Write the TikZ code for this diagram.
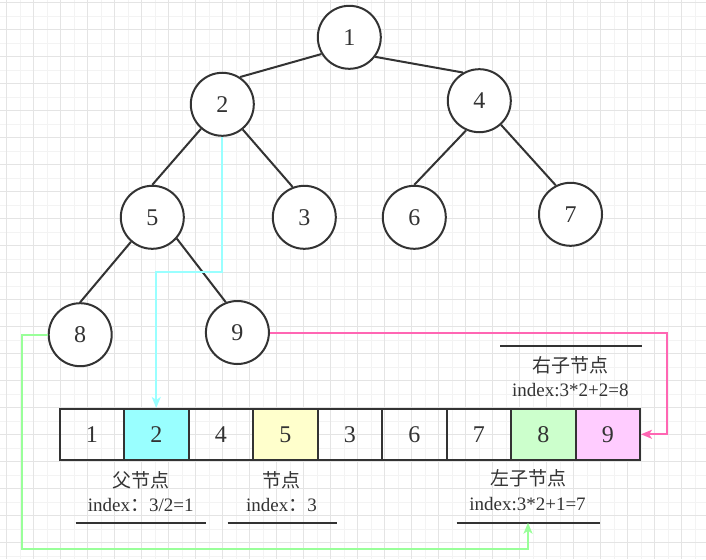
\documentclass[tikz,border=0pt]{standalone}
\usepackage{fontspec}
\setmainfont{Liberation Serif}
\newfontfamily\cjk{Noto Sans CJK SC}
\usetikzlibrary{arrows.meta}
\definecolor{ink}{HTML}{333333}
\definecolor{gmaj}{HTML}{E4E4E4}
\definecolor{gmin}{HTML}{F3F3F3}
\definecolor{cyanc}{HTML}{99FFFF}
\definecolor{yelc}{HTML}{FFFFCC}
\definecolor{grnc}{HTML}{CCFFCC}
\definecolor{pnkc}{HTML}{FFCCFF}
\definecolor{cyanl}{HTML}{99FFFF}
\definecolor{pinkl}{HTML}{FF66B3}
\definecolor{greenl}{HTML}{99FF99}
\tikzset{
  tnode/.style={circle,draw=ink,line width=2pt,fill=white,minimum size=63pt,inner sep=0pt,
    text=ink,font=\fontsize{24}{28}\selectfont},
  cell/.style={rectangle,draw=ink,line width=2pt,minimum width=64.5pt,minimum height=50.7pt,
    inner sep=0pt,text=ink,font=\fontsize{24}{28}\selectfont},
  edge/.style={draw=ink,line width=2pt},
  lbl/.style={text=ink,inner sep=0pt,font=\fontsize{19}{22}\selectfont},
  uline/.style={draw=ink,line width=2pt},
  conn/.style={line width=2pt,-{Stealth[length=11pt,width=9pt,inset=3pt]}},
  gridmaj/.style={draw=gmaj,line width=0.9pt},
  gridmin/.style={draw=gmin,line width=0.9pt}
}
\begin{document}
\begin{tikzpicture}[x=1pt,y=-1pt]
\useasboundingbox (0,0) rectangle (706,559);
\fill[white] (0,0) rectangle (706,559);
% grid
\foreach \i in {0,...,25} {\draw[gridmin] ({20.2+27*\i},0) -- ({20.2+27*\i},559);}
\foreach \i in {0,...,20} {\draw[gridmin] (0,{16.2+27*\i}) -- (706,{16.2+27*\i});}
\foreach \i in {0,...,25} {\draw[gridmaj] ({6.7+27*\i},0) -- ({6.7+27*\i},559);}
\foreach \i in {0,...,20} {\draw[gridmaj] (0,{2.7+27*\i}) -- (706,{2.7+27*\i});}

% tree nodes
\node[tnode] (n1) at (349.3,37.3) {1};
\node[tnode] (n2) at (222.3,104.3) {2};
\node[tnode] (n4) at (479.3,100.7) {4};
\node[tnode] (n5) at (152.3,217.3) {5};
\node[tnode] (n3) at (304.3,217.3) {3};
\node[tnode] (n6) at (414.3,217.3) {6};
\node[tnode] (n7) at (570.5,214.3) {7};
\node[tnode] (n8) at (80.2,334.7) {8};
\node[tnode] (n9) at (237.4,332.5) {9};

% tree edges
\draw[edge] (n1.211) -- (n2.57);
\draw[edge] (n1.-37) -- (n4.120);
\draw[edge] (n2.229) -- (n5.90);
\draw[edge] (n2.-51) -- (n3.111);
\draw[edge] (n4.246) -- (n6.90);
\draw[edge] (n4.-48) -- (n7.117);
\draw[edge] (n5.229) -- (n8.90);
\draw[edge] (n5.-41) -- (n9.111);

% array
\node[cell] (c1) at (91.75,434.3) {1};
\node[cell,fill=cyanc] (c2) at (156.25,434.3) {2};
\node[cell] (c3) at (220.75,434.3) {4};
\node[cell,fill=yelc] (c4) at (285.25,434.3) {5};
\node[cell] (c5) at (349.75,434.3) {3};
\node[cell] (c6) at (414.25,434.3) {6};
\node[cell] (c7) at (478.75,434.3) {7};
\node[cell,fill=grnc] (c8) at (543.25,434.3) {8};
\node[cell,fill=pnkc] (c9) at (607.75,434.3) {9};

% labels
\node[lbl] (lp1) at (141,480) {\cjk 父节点};
\node[lbl] (lp2) at (140.7,505) {index{\cjk ：}3/2=1};
\node[lbl] (ln1) at (281.7,480) {\cjk 节点};
\node[lbl] (ln2) at (281.5,505) {index{\cjk ：}3};
\node[lbl] (ll1) at (528.3,478) {\cjk 左子节点};
\node[lbl] (ll2) at (527.5,504) {index:3*2+1=7};
\node[lbl] (lr1) at (570,365) {\cjk 右子节点};
\node[lbl] (lr2) at (570.3,390) {index:3*2+2=8};

% underlines
\draw[uline] (75.7,522.7) -- (206.3,522.7);
\draw[uline] (227.5,522.7) -- (336.5,522.7);
\draw[uline] (456.7,522.7) -- (600,522.7);
\draw[uline] (500,345.7) -- (641.7,345.7);

% connectors
\coordinate (cyb) at (0,272.3);
\draw[conn,cyanl] (n2.south) -- (n2.south |- cyb) -| (c2.north);
\coordinate (pkx) at (666.7,0);
\draw[conn,pinkl] (n9.east) -- (n9.east -| pkx) |- (c9.east);
\coordinate (grc) at (21.6,549.3);
\coordinate (lc) at (528,522.7);
\draw[conn,greenl] (n8.west) -| (grc) -| (lc);
\end{tikzpicture}
\end{document}
